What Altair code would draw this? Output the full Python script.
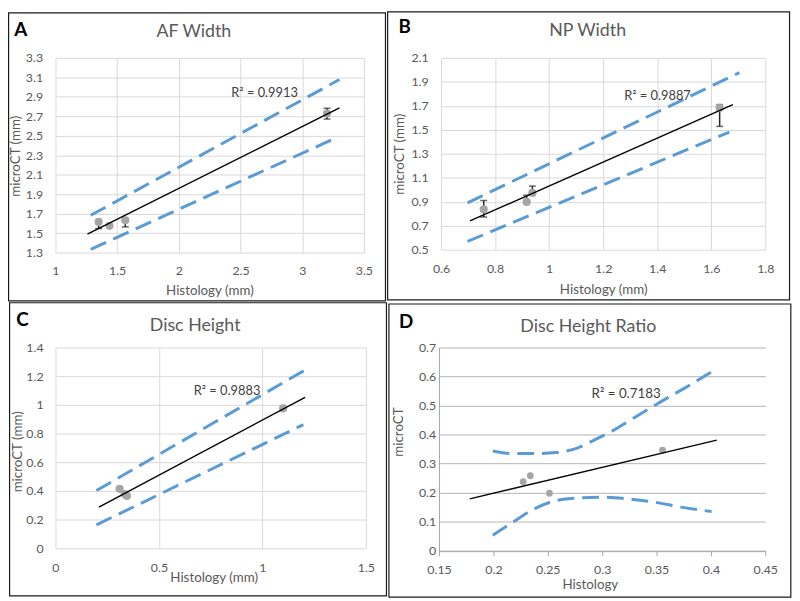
import altair as alt
import pandas as pd

FONT = "Lato"
TXT = "#595959"
BLUE = "#5b9bd5"
PT = "#a5a5a5"
ERR = "#262626"

# ---------------- A : AF Width ----------------
a_hist = [1.350, 1.438, 1.566, 3.201]
a_ct = [1.615, 1.575, 1.632, 2.728]
a_err_lo = [1.547, 1.575, 1.564, 2.671]
a_err_hi = [1.615, 1.575, 1.632, 2.782]
a_fit_x = [1.259, 3.302]
a_fit_y = [1.490, 2.785]
a_up_x = [1.286, 3.302]
a_up_y = [1.683, 3.077]
a_lo_x = [1.286, 3.254]
a_lo_y = [1.334, 2.467]
a_xticks = [1.0, 1.5, 2.0, 2.5, 3.0, 3.5]
a_yticks = [1.3, 1.5, 1.7, 1.9, 2.1, 2.3, 2.5, 2.7, 2.9, 3.1, 3.3]
a_r2 = ["R² = 0.9913"]
a_r2_x = [2.695]
a_r2_y = [2.935]

# ---------------- B : NP Width ----------------
b_hist = [0.758, 0.917, 0.938, 1.631]
b_ct = [0.836, 0.898, 0.973, 1.682]
b_err_lo = [0.772, 0.898, 0.973, 1.528]
b_err_hi = [0.910, 0.954, 1.030, 1.710]
b_fit_x = [0.707, 1.680]
b_fit_y = [0.739, 1.710]
b_up_x = [0.698, 1.704]
b_up_y = [0.890, 1.976]
b_lo_x = [0.698, 1.667]
b_lo_y = [0.568, 1.481]
b_xticks = [0.6, 0.8, 1.0, 1.2, 1.4, 1.6, 1.8]
b_yticks = [0.5, 0.7, 0.9, 1.1, 1.3, 1.5, 1.7, 1.9, 2.1]
b_r2 = ["R² = 0.9887"]
b_r2_x = [1.401]
b_r2_y = [1.784]

# ---------------- C : Disc Height ----------------
c_hist = [0.310, 0.335, 0.345, 1.100]
c_ct = [0.414, 0.378, 0.365, 0.975]
c_fit_x = [0.210, 1.206]
c_fit_y = [0.287, 1.052]
c_up_x = [0.198, 1.206]
c_up_y = [0.402, 1.243]
c_lo_x = [0.198, 1.198]
c_lo_y = [0.163, 0.862]
c_xticks = [0.0, 0.5, 1.0, 1.5]
c_yticks = [0.0, 0.2, 0.4, 0.6, 0.8, 1.0, 1.2, 1.4]
c_r2 = ["R² = 0.9883"]
c_r2_x = [0.829]
c_r2_y = [1.094]

# ---------------- D : Disc Height Ratio ----------------
d_hist = [0.2273, 0.2339, 0.2515, 0.3555]
d_ct = [0.2376, 0.2580, 0.1977, 0.3460]
d_fit_x = [0.1782, 0.4054]
d_fit_y = [0.1784, 0.3810]
d_up_x = [0.1994, 0.2180, 0.2394, 0.2575, 0.2757, 0.2939, 0.3091, 0.3242, 0.3545, 0.3757, 0.4000]
d_up_y = [0.3436, 0.3345, 0.3345, 0.3380, 0.3516, 0.3835, 0.4120, 0.4460, 0.5145, 0.5600, 0.6147]
d_lo_x = [0.1994, 0.2180, 0.2394, 0.2575, 0.2787, 0.3000, 0.3242, 0.3485, 0.3727, 0.4006]
d_lo_y = [0.0530, 0.0985, 0.1477, 0.1726, 0.1818, 0.1840, 0.1784, 0.1670, 0.1500, 0.1350]
d_xticks = [0.15, 0.2, 0.25, 0.3, 0.35, 0.4, 0.45]
d_yticks = [0.0, 0.1, 0.2, 0.3, 0.4, 0.5, 0.6, 0.7]
d_r2 = ["R² = 0.7183"]
d_r2_x = [0.322]
d_r2_y = [0.541]


def xy(xs, ys):
    return pd.DataFrame({"x": xs, "y": ys})


ONE = pd.DataFrame({"k": [0]})
LABEL_SIZE = 12.5
AXTITLE_SIZE = 13.5


def panel(cfg):
    xs = alt.Scale(domain=[cfg["xticks"][0], cfg["xticks"][-1]], nice=False, zero=False)
    ys = alt.Scale(domain=[cfg["yticks"][0], cfg["yticks"][-1]], nice=False, zero=False)
    excel = cfg["style"] == "excel"
    xaxis = alt.Axis(
        values=cfg["xticks"], format="~g", labelFlush=False, labelOverlap=False,
        grid=excel, gridColor="#d9d9d9", gridWidth=1,
        domain=not excel, domainColor="#a6a6a6", domainWidth=1,
        ticks=not excel, tickSize=5, tickColor="#a6a6a6",
        labelPadding=cfg["xpad"], labelFont=FONT, labelFontSize=LABEL_SIZE, labelColor=TXT,
        title=cfg["xtitle"], titleFont=FONT, titleFontSize=AXTITLE_SIZE, titleFontWeight="normal",
        titleColor=TXT, titleX=cfg["xtt"][0], titleY=cfg["xtt"][1],
        titleBaseline="alphabetic", titleAlign="center",
    )
    yaxis = alt.Axis(
        values=cfg["yticks"], format="~g", labelFlush=False, labelOverlap=False,
        grid=True, gridColor="#d9d9d9" if excel else "#b4b4b4", gridWidth=1,
        domain=not excel, domainColor="#a6a6a6", domainWidth=1,
        ticks=False,
        labelPadding=cfg["ypad"], labelFont=FONT, labelFontSize=LABEL_SIZE, labelColor=TXT,
        title=cfg["ytitle"], titleFont=FONT, titleFontSize=AXTITLE_SIZE, titleFontWeight="normal",
        titleColor=TXT, titleX=cfg["ytt"][0], titleY=cfg["ytt"][1], titleAngle=270,
        titleBaseline="alphabetic", titleAlign="center",
    )
    X = alt.X("x:Q", scale=xs, axis=xaxis)
    Y = alt.Y("y:Q", scale=ys, axis=yaxis)

    layers = []
    rx, rx2, ry, ry2 = cfg["rect"]
    layers.append(
        alt.Chart(ONE).mark_rect(fill="transparent", stroke="#1a1a1a", strokeWidth=1.2).encode(
            x=alt.value(rx), x2=alt.value(rx2), y=alt.value(ry), y2=alt.value(ry2)
        )
    )
    pts = xy(cfg["px"], cfg["py"])
    if cfg.get("elo") is not None:
        err = pd.DataFrame({"x": cfg["px"], "y": cfg["elo"], "y2": cfg["ehi"]})
        caps = xy(cfg["px"] + cfg["px"], cfg["elo"] + cfg["ehi"])
        layers.append(
            alt.Chart(err).mark_rule(color=ERR, strokeWidth=1.5).encode(x=X, y=Y, y2="y2:Q")
        )
        layers.append(
            alt.Chart(caps).mark_tick(color=ERR, orient="horizontal", size=7, thickness=1.5).encode(x=X, y=Y)
        )
    for bx, by in cfg["bands"]:
        layers.append(
            alt.Chart(xy(bx, by)).mark_line(
                color=BLUE, strokeWidth=3, strokeDash=[17, 8], strokeCap="butt",
                interpolate="monotone"
            ).encode(x=X, y=Y)
        )
    layers.append(
        alt.Chart(pts).mark_circle(color=PT, opacity=1, size=cfg["psize"]).encode(x=X, y=Y)
    )
    layers.append(
        alt.Chart(xy(cfg["fx"], cfg["fy"])).mark_line(color="#000000", strokeWidth=1.4).encode(x=X, y=Y)
    )
    r2 = pd.DataFrame({"x": cfg["r2x"], "y": cfg["r2y"], "t": cfg["r2"]})
    layers.append(
        alt.Chart(r2).mark_text(font=FONT, fontSize=cfg["r2size"], color="#404040", baseline="middle").encode(
            x=X, y=Y, text="t:N"
        )
    )
    lx, ly = cfg["letter_pos"]
    layers.append(
        alt.Chart(ONE).mark_text(
            text=cfg["letter"], font=FONT, fontSize=19, fontWeight="bold", color="#000000",
            align="center", baseline="alphabetic"
        ).encode(x=alt.value(lx), y=alt.value(ly))
    )
    tx, ty = cfg["title_pos"]
    layers.append(
        alt.Chart(ONE).mark_text(
            text=cfg["title"], font=FONT, fontSize=18, color=TXT,
            align="center", baseline="alphabetic"
        ).encode(x=alt.value(tx), y=alt.value(ty))
    )
    return alt.layer(*layers).properties(width=cfg["w"], height=cfg["h"])


A = panel(dict(
    style="excel", xticks=a_xticks, yticks=a_yticks, xtitle="Histology (mm)", ytitle="microCT (mm)",
    px=a_hist, py=a_ct, elo=a_err_lo, ehi=a_err_hi, psize=68,
    bands=[(a_up_x, a_up_y), (a_lo_x, a_lo_y)], fx=a_fit_x, fy=a_fit_y,
    r2=a_r2, r2x=a_r2_x, r2y=a_r2_y, r2size=13,
    letter="A", title="AF Width", w=312, h=197,
    rect=(-47.4, 333.8, -45.4, 245.8), letter_pos=(-35, -22.3), title_pos=(140, -20.7),
    xpad=12, ypad=13, xtt=(155.7, 42.3), ytt=(-36, 99),
))

B = panel(dict(
    style="excel", xticks=b_xticks, yticks=b_yticks, xtitle="Histology (mm)", ytitle="microCT (mm)",
    px=b_hist, py=b_ct, elo=b_err_lo, ehi=b_err_hi, psize=68,
    bands=[(b_up_x, b_up_y), (b_lo_x, b_lo_y)], fx=b_fit_x, fy=b_fit_y,
    r2=b_r2, r2x=b_r2_x, r2y=b_r2_y, r2size=13,
    letter="B", title="NP Width", w=328, h=194,
    rect=(-54, 352.5, -46.4, 244.8), letter_pos=(-36.7, -25), title_pos=(148.3, -22.3),
    xpad=13, ypad=13, xtt=(164, 44), ytt=(-38, 97),
))

C = panel(dict(
    style="excel", xticks=c_xticks, yticks=c_yticks, xtitle="Histology (mm)", ytitle="microCT (mm)",
    px=c_hist, py=c_ct, elo=None, ehi=None, psize=68,
    bands=[(c_up_x, c_up_y), (c_lo_x, c_lo_y)], fx=c_fit_x, fy=c_fit_y,
    r2=c_r2, r2x=c_r2_x, r2y=c_r2_y, r2size=13,
    letter="C", title="Disc Height", w=314, h=203,
    rect=(-46.4, 334.8, -45.3, 251.2), letter_pos=(-33.5, -21.3), title_pos=(141.3, -17),
    xpad=14, ypad=12.5, xtt=(160, 33.2), ytt=(-34.3, 105),
))

D = panel(dict(
    style="plain", xticks=d_xticks, yticks=d_yticks, xtitle="Histology", ytitle="microCT",
    px=d_hist, py=d_ct, elo=None, ehi=None, psize=48,
    bands=[(d_up_x, d_up_y), (d_lo_x, d_lo_y)], fx=d_fit_x, fy=d_fit_y,
    r2=d_r2, r2x=d_r2_x, r2y=d_r2_y, r2size=13.5,
    letter="D", title="Disc Height Ratio", w=330, h=205.5,
    rect=(-50.7, 355.8, -44, 252.5), letter_pos=(-33.4, -20), title_pos=(151, -15.7),
    xpad=8, ypad=3.4, xtt=(152.5, 38.5), ytt=(-36.7, 85),
))

chart = alt.vconcat(
    alt.hconcat(A, B, spacing=0),
    alt.hconcat(C, D, spacing=0),
    spacing=0,
).properties(padding=0).configure_view(strokeWidth=0)

chart.save("out.html", embed_options={"renderer": "svg", "actions": False})
